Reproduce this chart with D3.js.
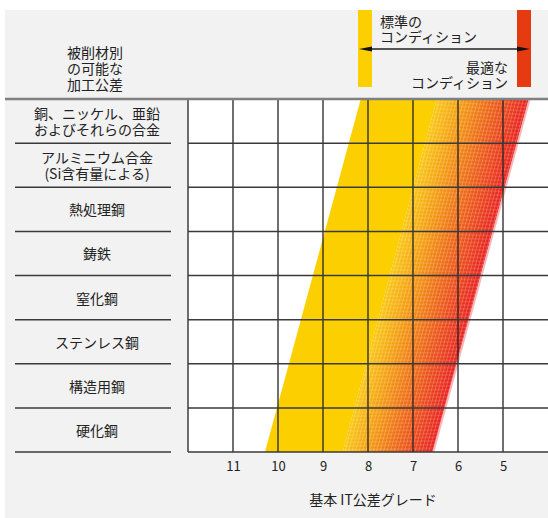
<!DOCTYPE html>
<html>
<head>
<meta charset="utf-8">
<script src="https://cdn.jsdelivr.net/npm/d3@7"></script>
<style>
  html, body { margin: 0; padding: 0; background: #fff; }
  svg text { font-family: 'Noto Sans CJK JP', 'Noto Sans', sans-serif; fill: #222; }
</style>
</head>
<body>
<svg id="chart"></svg>
<script>
// work material rows, top to bottom
const materials = [
  '銅、ニッケル、亜鉛\nおよびそれらの合金',
  'アルミニウム合金\n(Si含有量による)',
  '熱処理鋼',
  '鋳鉄',
  '窒化鋼',
  'ステンレス鋼',
  '構造用鋼',
  '硬化鋼',
];

// basic IT tolerance grades on the x axis
const itGrades = [11, 10, 9, 8, 7, 6, 5];

// band edges in IT grade: [standard edge, hatch start, optimal edge]
const bandTopEdges = [8.16, 6.47, 4.43];
const bandBottomEdges = [10.29, 8.56, 6.57];

const yellow = '#fcd000';
const red = '#e63a10';
const gradientColors = ['#f9c612', '#f4a00c', '#ef7412', '#eb4a18', '#e8201e'];

const width = 548;
const height = 518;

const svg = d3.select('#chart').attr('width', width).attr('height', height);

// page background
svg.append('rect')
  .attr('x', 5).attr('y', 10)
  .attr('width', width - 5).attr('height', height - 10)
  .attr('fill', '#f2f2f2');

const plot = { left: 188, right: 548, top: 99, bottom: 452 };

const x = d3.scaleLinear().domain([12, 4]).range([plot.left, plot.right]);
const y = d3.scaleBand().domain(materials).range([plot.top, plot.bottom]);

// white plot area
svg.append('rect')
  .attr('x', plot.left).attr('y', plot.top)
  .attr('width', plot.right - plot.left).attr('height', plot.bottom - plot.top)
  .attr('fill', '#fff');

const defs = svg.append('defs');
const hatch = defs.append('pattern')
  .attr('id', 'hatch')
  .attr('patternUnits', 'userSpaceOnUse')
  .attr('width', 3.5).attr('height', 6)
  .attr('patternTransform', 'skewX(-15)');
hatch.append('rect')
  .attr('x', 0).attr('y', 0).attr('width', 1).attr('height', 6)
  .attr('fill', '#fff').attr('fill-opacity', 0.22);

function quad(aTop, aBot, bTop, bBot) {
  return [
    [x(aTop), plot.top],
    [x(bTop), plot.top],
    [x(bBot), plot.bottom],
    [x(aBot), plot.bottom],
  ];
}

const band = svg.append('g');

// solid yellow part
band.append('polygon')
  .attr('points', quad(bandTopEdges[0], bandBottomEdges[0], bandTopEdges[1], bandBottomEdges[1]).join(' '))
  .attr('fill', yellow);

// gradient part as thin slanted strips
const nStrips = 90;
const colorAt = d3.interpolateRgbBasis(gradientColors);
const lerp = (a, b, t) => a + (b - a) * t;
const strips = d3.range(nStrips).map((i) => {
  const t0 = i / nStrips;
  const t1 = Math.min((i + 1.3) / nStrips, 1);
  return {
    pts: quad(
      lerp(bandTopEdges[1], bandTopEdges[2], t0), lerp(bandBottomEdges[1], bandBottomEdges[2], t0),
      lerp(bandTopEdges[1], bandTopEdges[2], t1), lerp(bandBottomEdges[1], bandBottomEdges[2], t1),
    ),
    color: colorAt(i / (nStrips - 1)),
  };
});
band.selectAll('polygon.strip')
  .data(strips)
  .join('polygon')
  .attr('class', 'strip')
  .attr('points', (d) => d.pts.join(' '))
  .attr('fill', (d) => d.color);

// hatching over the gradient part
band.append('polygon')
  .attr('points', quad(bandTopEdges[1], bandBottomEdges[1], bandTopEdges[2], bandBottomEdges[2]).join(' '))
  .attr('fill', 'url(#hatch)');

// soft right edge
const soft = quad(bandTopEdges[2], bandBottomEdges[2], bandTopEdges[2], bandBottomEdges[2]);
soft[1][0] += 2; soft[2][0] += 2;
band.append('polygon')
  .attr('points', soft.join(' '))
  .attr('fill', '#f07070').attr('fill-opacity', 0.5);

// vertical grid lines
svg.append('g')
  .selectAll('line')
  .data(itGrades)
  .join('line')
  .attr('x1', (d) => x(d)).attr('x2', (d) => x(d))
  .attr('y1', plot.top).attr('y2', plot.bottom)
  .attr('stroke', '#222').attr('stroke-width', 1.3);

// left border of plot
svg.append('line')
  .attr('x1', plot.left).attr('x2', plot.left)
  .attr('y1', plot.top).attr('y2', plot.bottom)
  .attr('stroke', '#222').attr('stroke-width', 1.3);

// row separators (plot + label column)
const rowBottoms = materials.map((m) => y(m) + y.bandwidth());
svg.append('g')
  .selectAll('line')
  .data(rowBottoms)
  .join('line')
  .attr('x1', plot.left).attr('x2', plot.right)
  .attr('y1', (d) => d).attr('y2', (d) => d)
  .attr('stroke', '#3a3a3a').attr('stroke-width', 1.5);
svg.append('g')
  .selectAll('line')
  .data(rowBottoms)
  .join('line')
  .attr('x1', 15).attr('x2', 171)
  .attr('y1', (d) => d).attr('y2', (d) => d)
  .attr('stroke', '#3a3a3a').attr('stroke-width', 1.5);

// top header rule
svg.append('line')
  .attr('x1', 5).attr('x2', width)
  .attr('y1', plot.top).attr('y2', plot.top)
  .attr('stroke', '#808080').attr('stroke-width', 2.5);

// multi-line text helper: one text element, one tspan per line
function multiText(g, lines, px, py, lh, anchor) {
  const t = g.append('text')
    .attr('x', px)
    .attr('text-anchor', anchor)
    .attr('font-size', 14);
  lines.forEach((line, i) => {
    t.append('tspan').attr('x', px).attr('y', py + i * lh).text(line);
  });
  return t;
}

// row labels
const rowG = svg.append('g');
materials.forEach((d) => {
  const lines = d.split('\n');
  const cy = y(d) + y.bandwidth() / 2;
  multiText(rowG, lines, 97, cy + 6 - ((lines.length - 1) / 2) * 16, 16, 'middle');
});

// x axis tick labels
const axis = svg.append('g')
  .attr('transform', `translate(0,${plot.bottom})`)
  .call(d3.axisBottom(x).tickValues(itGrades).tickSize(0).tickPadding(10));
axis.select('.domain').remove();
axis.selectAll('text')
  .attr('font-size', 13)
  .attr('font-family', "'Noto Sans CJK JP', 'Noto Sans', sans-serif")
  .attr('fill', '#222');

svg.append('text')
  .attr('x', 373).attr('y', 505)
  .attr('text-anchor', 'middle')
  .attr('font-size', 14)
  .text('基本 IT公差グレード');

// header: left caption
const headG = svg.append('g');
multiText(headG, ['被削材別', 'の可能な', '加工公差'], 67, 58, 16, 'start');

// header: condition bars and arrow
svg.append('rect').attr('x', 358).attr('y', 10).attr('width', 14).attr('height', 77).attr('fill', yellow);
svg.append('rect').attr('x', 517).attr('y', 10).attr('width', 14).attr('height', 77).attr('fill', red);

svg.append('line')
  .attr('x1', 366).attr('x2', 524)
  .attr('y1', 49).attr('y2', 49)
  .attr('stroke', '#222').attr('stroke-width', 1.3);
svg.append('polygon').attr('points', '359,49 372,46.5 372,51.5').attr('fill', '#111');
svg.append('polygon').attr('points', '530,49 517,46.5 517,51.5').attr('fill', '#111');

multiText(headG, ['標準の', 'コンディション'], 380, 27, 15, 'start');
multiText(headG, ['最適な', 'コンディション'], 508, 73, 15, 'end');
</script>
</body>
</html>
